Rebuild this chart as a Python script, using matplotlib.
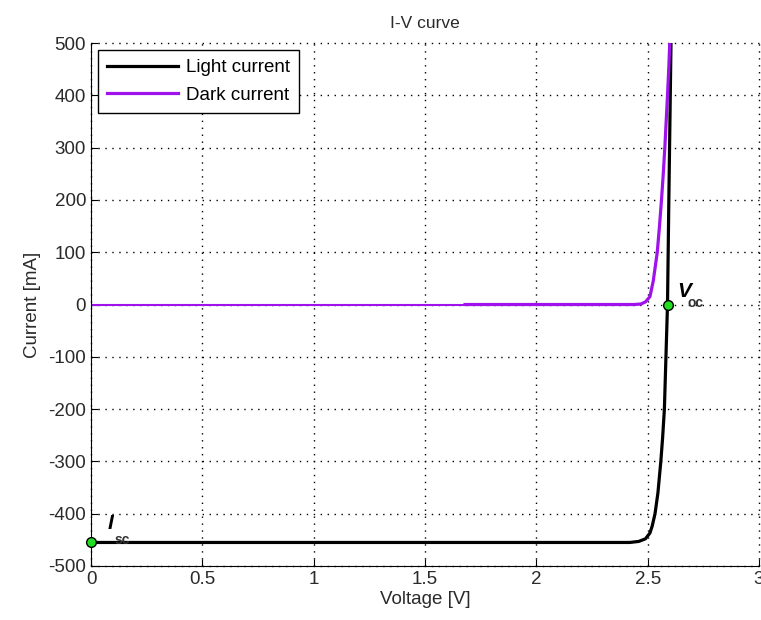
import matplotlib
matplotlib.use("Agg")
from matplotlib import pyplot as plt

plt.rcParams['font.family'] = ['Liberation Sans', 'DejaVu Sans']
plt.rcParams['axes.unicode_minus'] = False

# Dark current curve (V, mA)
dark_v = [0.0, 1.68, 2.44, 2.47, 2.49, 2.51, 2.525, 2.543, 2.553, 2.562, 2.57, 2.577, 2.583, 2.589, 2.595, 2.60]
dark_i = [0.0, 0.0, 0.0, 1.0, 5.0, 15.0, 45.0, 100.0, 150.0, 200.0, 250.0, 300.0, 350.0, 400.0, 455.0, 510.0]

# Light current curve (V, mA)
light_v = [0.0, 2.42, 2.46, 2.49, 2.51, 2.52, 2.533, 2.546, 2.559, 2.567, 2.575, 2.582, 2.589, 2.595, 2.605]
light_i = [-455.0, -455.0, -453.0, -448.0, -437.0, -424.0, -400.0, -360.0, -300.0, -255.0, -200.0, -100.0, 0.0, 200.0, 510.0]

isc = -455.0
voc = 2.589

x_ticks = [0, 0.5, 1, 1.5, 2, 2.5, 3]
y_ticks = [-500, -400, -300, -200, -100, 0, 100, 200, 300, 400, 500]

purple = '#a012ec'

fig = plt.figure(figsize=(7.61, 6.20), dpi=100)
ax = fig.add_axes([0.1196, 0.0871, 0.8778, 0.8435])

ax.plot(dark_v[:2], dark_i[:2], color=purple, linewidth=1.5)
ax.plot(light_v, light_i, color='black', linewidth=2.3, label='Light current')
ax.plot(dark_v[1:], dark_i[1:], color=purple, linewidth=2.3, label='Dark current')

ax.plot([0, voc], [isc, 0], linestyle='none', marker='o', markersize=7,
        markerfacecolor='#22dd22', markeredgecolor='black', markeredgewidth=1.0,
        clip_on=False, zorder=5)

ax.text(0.075, -430, 'I', fontsize=15, fontweight='bold', fontstyle='italic')
ax.text(0.105, -457, 'sc', fontsize=10, fontweight='bold', color='#333333')
ax.text(2.635, 15, 'V', fontsize=15, fontweight='bold', fontstyle='italic')
ax.text(2.68, -5, 'oc', fontsize=10, fontweight='bold', color='#333333')

ax.set_xlim(0, 3)
ax.set_ylim(-500, 500)
ax.set_xticks(x_ticks)
ax.set_xticklabels(['0', '0.5', '1', '1.5', '2', '2.5', '3'])
ax.set_yticks(y_ticks)
ax.tick_params(direction='in', length=5, labelsize=13.5, labelcolor='#2a2a2a')
ax.grid(True, linestyle=(0, (1, 4)), color='black', linewidth=1.0)
ax.spines['top'].set_visible(False)
ax.spines['right'].set_visible(False)
for gl in ax.get_xgridlines() + ax.get_ygridlines():
    gl.set_clip_on(False)

ax.set_title('I-V curve', fontsize=12.5, pad=11, color='#2a2a2a')
ax.set_xlabel('Voltage [V]', fontsize=13.5, labelpad=2, color='#2a2a2a')
ax.set_ylabel('Current [mA]', fontsize=13.5, labelpad=5, color='#2a2a2a')

leg = ax.legend(loc='upper left', fontsize=13.5, fancybox=False, framealpha=1,
                edgecolor='black', borderaxespad=0.35, handlelength=3.8,
                labelspacing=0.55, borderpad=0.5, handletextpad=0.4)
leg.get_frame().set_linewidth(1.0)

fig.savefig('out.png', dpi=100)
